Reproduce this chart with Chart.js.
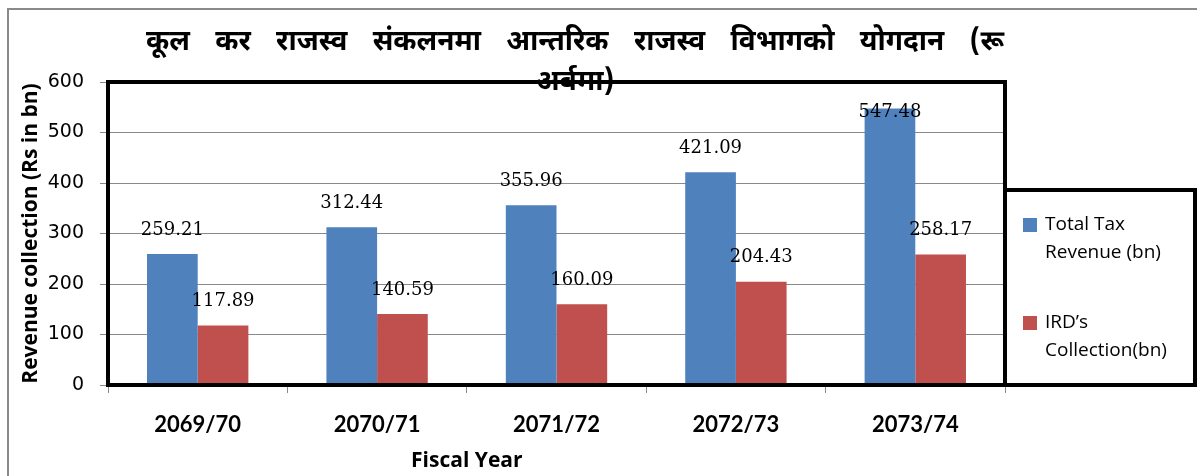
<!DOCTYPE html>
<html>
<head>
<meta charset="utf-8">
<script src="https://cdn.jsdelivr.net/npm/chart.js@4.4.0/dist/chart.umd.min.js"></script>
<style>
  html, body { margin: 0; padding: 0; background: #fff; }
</style>
</head>
<body>
<canvas id="chart" width="1197" height="476"></canvas>
<script>
// data
var years = ['2069/70', '2070/71', '2071/72', '2072/73', '2073/74'];
var totalTax = [259.21, 312.44, 355.96, 421.09, 547.48];
var irdCollection = [117.89, 140.59, 160.09, 204.43, 258.17];
var seriesNames = ['Total Tax Revenue (bn)', 'IRD\u2019s Collection(bn)'];
var yMax = 600, yStep = 100;

var titleLines = ['कूल कर राजस्व संकलनमा आन्तरिक राजस्व विभागको योगदान (रू', 'अर्बमा)'];
var xTitle = 'Fiscal Year';
var yTitle = 'Revenue collection (Rs in bn)';

var blue = '#4F81BD', red = '#C0504D';
var devaFont = "'Noto Sans Devanagari', 'Lohit Devanagari', 'Noto Sans', sans-serif";

// wrap legend text to a width
function wrap(ctx, text, maxW){
    var words = text.split(' '), lines = [], cur = '';
    words.forEach(function(w){
        var t = cur ? cur + ' ' + w : w;
        if (cur && ctx.measureText(t).width > maxW){
            lines.push(cur);
            cur = w;
        } else {
            cur = t;
        }
    });
    if (cur) lines.push(cur);
    return lines;
}

var decor = {
    id: 'decor',
    beforeDraw: function(chart){
        var ctx = chart.ctx;
        ctx.save();
        ctx.fillStyle = '#fff';
        ctx.fillRect(0, 0, chart.width, chart.height);
        // outer gray frame
        ctx.strokeStyle = '#8a8a8a';
        ctx.lineWidth = 2;
        ctx.beginPath();
        ctx.moveTo(8, chart.height);
        ctx.lineTo(8, 9);
        ctx.lineTo(chart.width, 9);
        ctx.stroke();
        ctx.restore();
    },
    afterDatasetsDraw: function(chart){
        var ctx = chart.ctx, a = chart.chartArea;
        ctx.save();
        // thick plot frame
        ctx.strokeStyle = '#000';
        ctx.lineWidth = 4;
        ctx.strokeRect(a.left, a.top, a.right - a.left, a.bottom - a.top);

        // value labels
        ctx.fillStyle = '#000';
        ctx.font = "18px 'DejaVu Serif', serif";
        ctx.textAlign = 'center';
        ctx.textBaseline = 'middle';
        chart.data.datasets.forEach(function(ds, i){
            chart.getDatasetMeta(i).data.forEach(function(el, j){
                var y = Math.max(el.y - 24, a.top + 30);
                ctx.fillText(ds.data[j].toFixed(2), el.x, y);
            });
        });

        // title
        ctx.font = "bold 28px " + devaFont;
        ctx.wordSpacing = '18px';
        ctx.fillText(titleLines[0], 575, 45);
        ctx.fillText(titleLines[1], 575, 85);
        ctx.wordSpacing = '0px';

        // x axis title
        ctx.font = "bold 21px 'Open Sans', sans-serif";
        ctx.fillText(xTitle, a.left + (a.right - a.left) * 0.4, 461);
        ctx.restore();
    },
    afterDraw: function(chart){
        var ctx = chart.ctx, a = chart.chartArea;
        var bx = a.right, by = 190, bw = 190, bh = a.bottom - 190;
        ctx.save();
        ctx.strokeStyle = '#000';
        ctx.lineWidth = 4;
        ctx.strokeRect(bx, by, bw, bh);
        ctx.font = "19px 'Open Sans', sans-serif";
        ctx.textBaseline = 'middle';
        ctx.textAlign = 'left';
        chart.data.datasets.forEach(function(ds, i){
            var y0 = 225 + i * 98;
            ctx.fillStyle = ds.backgroundColor;
            ctx.fillRect(bx + 18, y0 - 7, 14, 14);
            ctx.fillStyle = '#000';
            wrap(ctx, ds.label, 145).forEach(function(line, k){
                ctx.fillText(line, bx + 40, y0 + k * 28);
            });
        });
        ctx.restore();
    }
};

new Chart(document.getElementById('chart'), {
    type: 'bar',
    data: {
        labels: years,
        datasets: [
            { label: seriesNames[0], data: totalTax, backgroundColor: blue },
            { label: seriesNames[1], data: irdCollection, backgroundColor: red }
        ]
    },
    options: {
        responsive: false,
        animation: false,
        layout: { padding: { left: 12, right: 192, top: 82, bottom: 0 } },
        datasets: { bar: { barPercentage: 1, categoryPercentage: 0.565 } },
        plugins: {
            legend: { display: false },
            title: { display: false },
            tooltip: { enabled: false }
        },
        scales: {
            x: {
                grid: { offset: true, drawOnChartArea: false, tickLength: 8, color: '#888' },
                border: { color: '#888', width: 1 },
                ticks: { color: '#000', padding: 19, font: { family: 'Lato', size: 22, weight: 'bold' } },
                afterFit: function(s){ s.height = 91; }
            },
            y: {
                min: 0,
                max: yMax,
                ticks: { stepSize: yStep, color: '#000', padding: 16, font: { family: 'DejaVu Sans', size: 19 } },
                grid: { color: '#888', tickLength: 8 },
                border: { color: '#888' },
                title: {
                    display: true,
                    text: yTitle,
                    color: '#000',
                    padding: { top: 6, bottom: 0 },
                    font: { family: 'Open Sans', size: 21, weight: 'bold' }
                },
                afterFit: function(s){ s.width = 96; }
            }
        }
    },
    plugins: [decor]
});
</script>
</body>
</html>
